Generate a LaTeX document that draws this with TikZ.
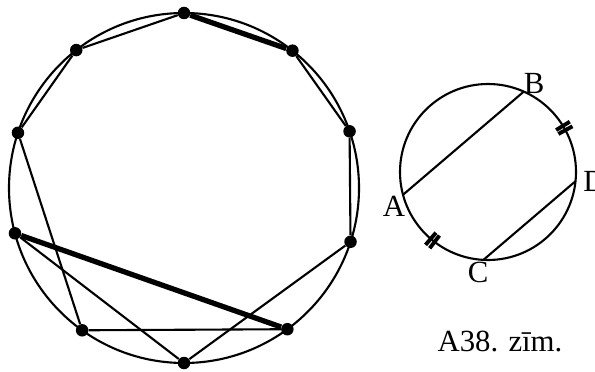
\documentclass[tikz,border=0pt]{standalone}
\usepackage{fontspec}
\setmainfont{Liberation Serif}
\usetikzlibrary{calc}
\tikzset{
  dot/.style={circle, fill=black, inner sep=0pt, minimum size=2.5mm},
  chord/.style={line width=1.2pt},
  boldchord/.style={line width=3pt},
  rim/.style={line width=1.2pt},
  tickmark/.style={line width=2.2pt},
  lbl/.style={font=\fontsize{17.5}{20}\selectfont, inner sep=0pt}
}
\begin{document}
\begin{tikzpicture}
  \useasboundingbox (0,0) rectangle (11.9,7.42);
  % big circle with ten points
  \coordinate (O) at (3.68,3.66);
  \draw[rim] (O) circle (3.5);
  \foreach \a [count=\i] in {90,51.7,18.9,-17.9,-53.8,-90,-125.6,-165,161.6,128}
    \node[dot] (p\i) at ($(O)+(\a:3.5)$) {};
  \draw[chord] (p10) -- (p1);
  \draw[boldchord] (p1) -- (p2);
  \draw[chord] (p2) -- (p3);
  \draw[chord] (p3) -- (p4);
  \draw[chord] (p4) -- (p6);
  \draw[chord] (p5) -- (p7);
  \draw[boldchord] (p8) -- (p5);
  \draw[chord] (p8) -- (p6);
  \draw[chord] (p9) -- (p7);
  \draw[chord] (p9) -- (p10);
  % small circle, parallel chords
  \coordinate (Q) at (9.76,3.98);
  \draw[rim] (Q) circle (1.76);
  \coordinate (A) at ($(Q)+(195:1.76)$);
  \coordinate (B) at ($(Q)+(66:1.76)$);
  \coordinate (C) at ($(Q)+(267:1.76)$);
  \coordinate (D) at ($(Q)+(354:1.76)$);
  \draw[chord] (A) -- (B);
  \draw[chord] (C) -- (D);
  \foreach \t in {231,30}
    \foreach \d in {-1.6,1.6}
      \draw[tickmark] ($(Q)+(\t+\d:1.6)$) -- ($(Q)+(\t+\d:1.92)$);
  \node[lbl] (labA) at (7.88,3.30) {A};
  \node[lbl] (labB) at (10.68,5.76) {B};
  \node[lbl] (labC) at (9.56,1.98) {C};
  \node[lbl, anchor=west] (labD) at (11.66,3.80) {D};
  \node[lbl] (caption) at (10.0,0.60) {A38. zīm.};
\end{tikzpicture}
\end{document}
